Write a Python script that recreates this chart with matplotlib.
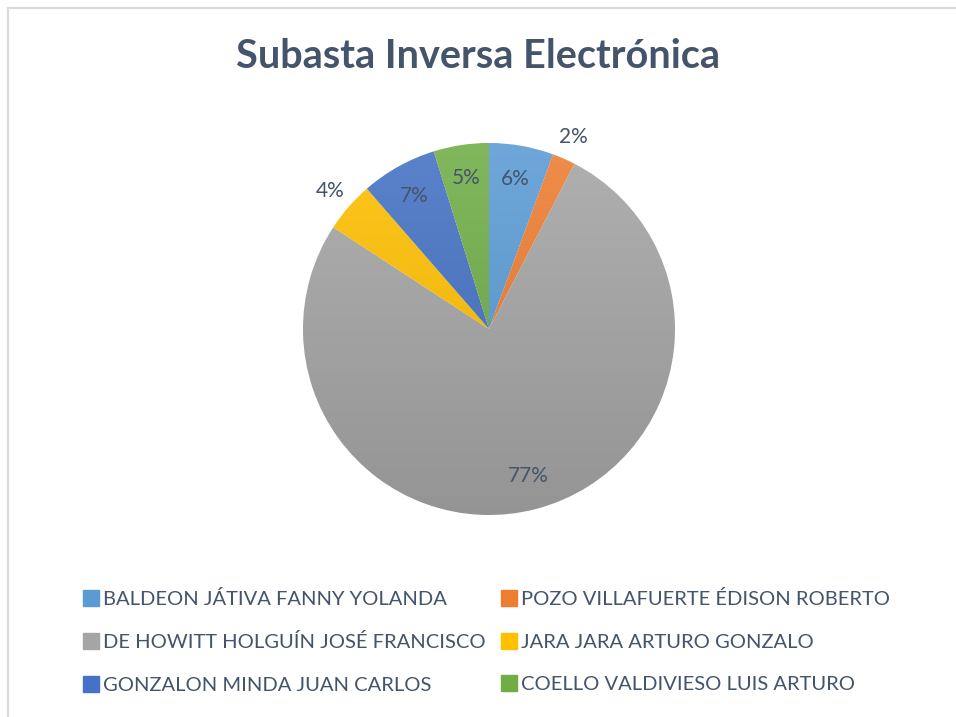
import numpy as np
import matplotlib
matplotlib.use("Agg")
import matplotlib.pyplot as plt
from matplotlib.colors import to_rgb
from matplotlib.lines import Line2D
from matplotlib.patches import Rectangle

plt.rcParams['font.family'] = ['Lato', 'DejaVu Sans']

title = "Subasta Inversa Electrónica"
names = ["BALDEON JÁTIVA FANNY YOLANDA",
         "POZO VILLAFUERTE ÉDISON ROBERTO",
         "DE HOWITT HOLGUÍN JOSÉ FRANCISCO",
         "JARA JARA ARTURO GONZALO",
         "GONZALON MINDA JUAN CARLOS",
         "COELLO VALDIVIESO LUIS ARTURO"]
shares = [5.6, 2.0, 76.6, 4.4, 6.6, 4.8]
colors = ["#5B9BD5", "#ED7D31", "#A5A5A5", "#FFC000", "#4472C4", "#70AD47"]
outside = [False, True, False, True, False, False]

text_color = "#44546A"

W, H = 956, 717
fig = plt.figure(figsize=(W / 100, H / 100), dpi=100)

# light border
border = Rectangle((8 / W, -0.01), 1.0, 1 - 8 / H + 0.01, transform=fig.transFigure,
                   fill=False, edgecolor="#D9DDE3", linewidth=1.6)
fig.patches.append(border)

cx, cy, r = 489, 329, 186
ax = fig.add_axes([(cx - r) / W, (H - cy - r) / H, 2 * r / W, 2 * r / H])

wedges, _ = ax.pie(shares, colors=colors, startangle=90, counterclock=False,
                   radius=1.0, wedgeprops=dict(edgecolor="white", linewidth=0.8))
ax.set_xlim(-1, 1)
ax.set_ylim(-1, 1)
ax.set_aspect("equal")
ax.axis("off")


def shade(c, f):
    c = np.array(to_rgb(c))
    if f >= 0:
        return c + (1 - c) * f
    return c * (1 + f)


# vertical gradient overlay clipped to each wedge
ys = np.linspace(0, 1, 256)[:, None]
for w, c in zip(wedges, colors):
    top = shade(c, 0.12)
    bot = shade(c, -0.10)
    img = top[None, None, :] * (1 - ys[..., None]) + bot[None, None, :] * ys[..., None]
    img = np.repeat(img, 2, axis=1)
    im = ax.imshow(img, extent=(-1, 1, -1, 1), origin="upper", zorder=1.5,
                   interpolation="bilinear")
    im.set_clip_path(w)
ax.set_xlim(-1, 1)
ax.set_ylim(-1, 1)

total = sum(shares)
for w, v, out in zip(wedges, shares, outside):
    ang = np.deg2rad((w.theta1 + w.theta2) / 2)
    d = 1.13 if out else 0.82
    ax.text(d * np.cos(ang), d * np.sin(ang), f"{round(100 * v / total):.0f}%",
            ha="center", va="center", fontsize=15, color=text_color, zorder=3)

fig.text(0.5, 1 - 56 / H, title, ha="center", va="center", fontsize=28.5,
         fontweight="bold", color=text_color)

handles = [Line2D([], [], marker="s", linestyle="none", markersize=11,
                  markerfacecolor=c, markeredgecolor=c) for c in colors]
order = [0, 2, 4, 1, 3, 5]
fig.legend([handles[i] for i in order], [names[i] for i in order], ncol=2,
           loc="center", bbox_to_anchor=(486 / W, 1 - 642 / H),
           frameon=False, fontsize=14.5, labelcolor=text_color, handletextpad=0.15,
           columnspacing=0.7, labelspacing=1.25, handlelength=0.9)

fig.savefig("out.png", dpi=100)
